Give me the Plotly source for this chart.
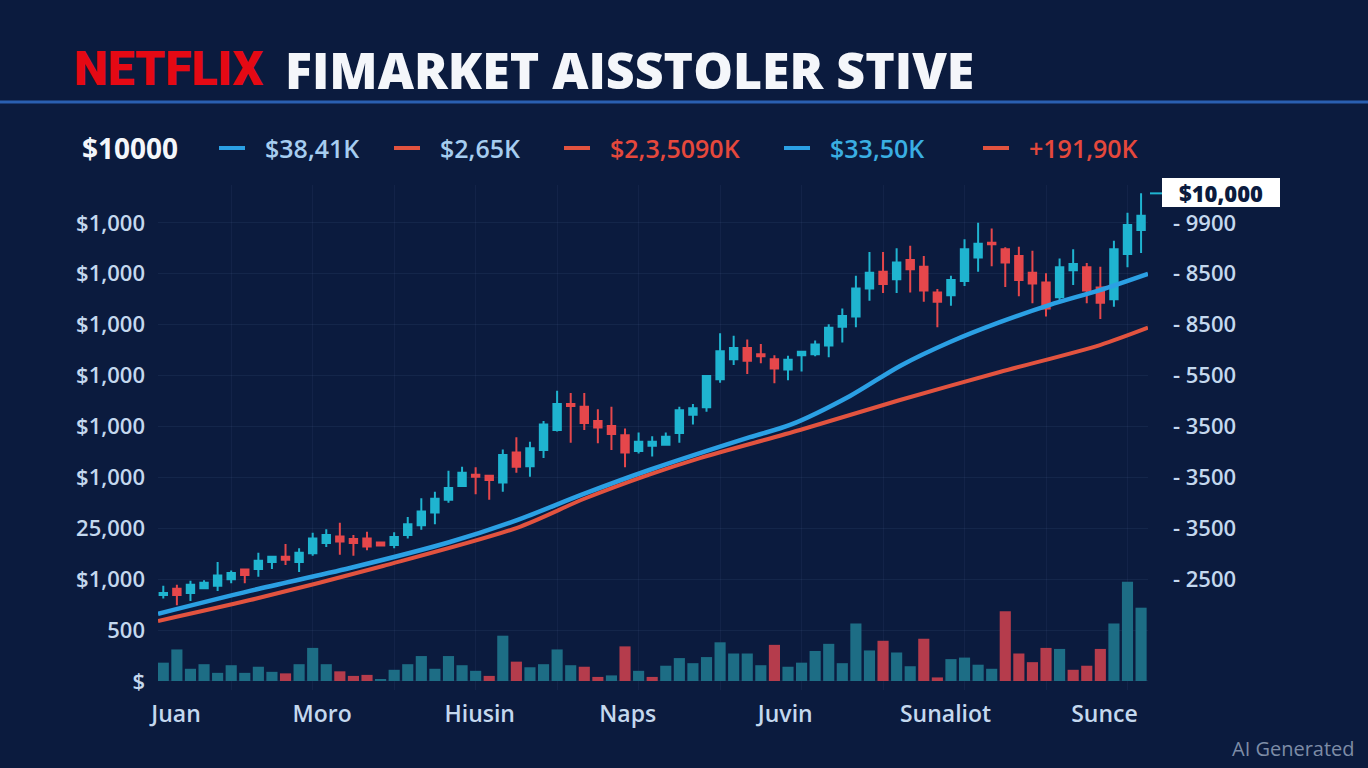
import plotly.graph_objects as go

# ---------------- data ----------------
opens = [169,181,173,182,187,200,219,220,234,244, 234,251,271,284,279,280,272,267,287,306,
         331,356,383,405,403,390,449,422,454,493, 544,539,511,501,483,452,462,464,487,523,
         538,593,632,654,642,632,612,640,642,659, 696,716,771,804,789,827,814,763,758,786,
         832,861,848,835,802,783,754,807,813,773, 750,839,886]
highs = [187,189,197,198,234,217,220,252,245,269, 261,291,298,311,287,293,273,292,322,359,
         372,413,421,420,403,455,479,470,511,570, 566,566,534,539,496,488,481,488,539,544,
         599,683,678,671,662,640,639,647,669,701, 732,796,843,843,850,855,835,770,796,868,
         900,889,852,853,845,801,830,848,821,814, 865,920,958]
lows = [162,149,157,180,177,192,192,205,220,228, 214,246,263,248,246,257,266,261,280,297,
        308,350,382,367,356,372,409,401,438,490, 468,493,467,454,420,447,441,464,468,504,
        529,586,621,603,624,585,591,608,638,636, 665,695,747,762,762,763,745,695,737,776,
        804,815,774,756,742,716,745,778,742,711, 735,813,841]
closes = [173,169,189,193,207,212,208,236,244,238, 252,280,287,274,271,264,266,283,308,333,
          358,379,409,401,395,444,421,457,504,544, 540,507,498,485,449,470,470,480,532,536,
          599,648,654,629,638,614,631,647,661,694, 717,771,802,780,822,809,767,745,788,848,
          859,858,822,788,781,732,813,819,767,743, 848,896,914]

volumes = [36,62,24,33,16,31,16,28,18,15, 33,65,33,19,10,12,2,22,33,49,
           24,49,31,20,10,89,38,27,33,62, 31,28,8,11,68,20,8,30,45,35,
           47,76,54,54,31,71,28,36,59,73, 35,113,60,79,56,29,83,7,43,46,
           32,24,137,54,37,65,63,22,30,63, 113,195,144]
volume_up = [1,1,1,1,1,1,1,1,1,0, 1,1,1,0,0,0,1,1,1,1,
             1,1,1,1,0,1,0,1,1,1, 1,0,0,1,0,1,0,1,1,1,
             1,1,1,1,1,0,1,1,1,1, 1,1,1,0,1,1,0,0,1,1,
             1,1,0,0,0,0,1,0,0,0, 1,1,1]

ma_fast_x = [-0.39, 6.38, 13.75, 21.11, 26.05, 30.91, 35.84, 43.20, 46.15, 50.57,
             54.25, 57.93, 61.6, 65.29, 68.97, 72.51]
ma_fast_y = [132, 177, 222, 273, 316, 367, 415, 479, 503, 560,
             619, 666, 705, 739, 768, 800]
ma_slow_x = [-0.39, 6.38, 16.18, 26.05, 31.0, 35.84, 39.52, 46.88, 54.25, 61.6, 68.97, 72.51]
ma_slow_y = [118, 159, 226, 301, 358, 406, 438, 493, 552, 607, 660, 694]

month_pos = [0.94, 11.7, 23.3, 34.2, 45.8, 57.6, 69.3]
month_labels = ["Juan", "Moro", "Hiusin", "Naps", "Juvin", "Sunaliot", "Sunce"]

left_tickvals = [0, 100, 200, 300, 400, 500, 600, 700, 800, 900]
left_ticktext = ["$", "500", "$1,000", "25,000", "$1,000", "$1,000", "$1,000",
                 "$1,000", "$1,000", "$1,000"]
right_tickvals = [200, 300, 400, 500, 600, 700, 800, 900]
right_ticktext = ["- 2500", "- 3500", "- 3500", "- 3500", "- 5500", "- 8500",
                  "- 8500", "- 9900"]

legend_items = ["$38,41K", "$2,65K", "$2,3,5090K", "$33,50K", "+191,90K"]
last_price_label = "$10,000"
last_price_value = 958

# ---------------- styling ----------------
BG = "#0b1b3e"
CYAN = "#1fb4d0"
RED = "#e5474b"
VOL_UP = "#1d6d85"
VOL_DN = "#b53c4c"
MA_BLUE = "#2ba0e4"
MA_RED = "#e2533f"
TICK = "#c4d8ee"
FONT = "Open Sans, Noto Sans, DejaVu Sans, sans-serif"

W, H = 1368, 768
L, R, T, B = 158, 220, 185, 78


def pxx(x):
    return (x - L) / (W - L - R)


def pxy(y):
    return (H - B - y) / (H - T - B)


x_idx = list(range(len(opens)))

fig = go.Figure()

fig.add_trace(go.Bar(
    x=x_idx, y=volumes, width=0.82,
    marker=dict(color=[VOL_UP if u else VOL_DN for u in volume_up], line=dict(width=0)),
    hoverinfo="skip", showlegend=False,
))

fig.add_trace(go.Scatter(
    x=ma_slow_x, y=ma_slow_y, mode="lines",
    line=dict(color=MA_RED, width=4, shape="spline", smoothing=0.8),
    yaxis="y2", showlegend=False, hoverinfo="skip",
))
fig.add_trace(go.Scatter(
    x=ma_fast_x, y=ma_fast_y, mode="lines",
    line=dict(color=MA_BLUE, width=4.5, shape="spline", smoothing=0.8),
    showlegend=False, hoverinfo="skip",
))

fig.add_trace(go.Candlestick(
    x=x_idx, open=opens, high=highs, low=lows, close=closes,
    increasing=dict(line=dict(color=CYAN, width=2), fillcolor=CYAN),
    decreasing=dict(line=dict(color=RED, width=2), fillcolor=RED),
    whiskerwidth=0, showlegend=False,
))

yr = [-17.7, 974.4]
fig.update_layout(
    width=W, height=H,
    margin=dict(l=L, r=R, t=T, b=B),
    paper_bgcolor=BG, plot_bgcolor=BG,
    showlegend=False,
    boxgap=0.22,
    font=dict(family=FONT, color=TICK),
    xaxis=dict(
        range=[-0.39, 72.51], tickmode="array", tickvals=month_pos, ticktext=month_labels,
        showgrid=False, zeroline=False, showline=False, ticks="",
        tickfont=dict(size=23, color=TICK, weight=600), ticklabelstandoff=8,
        rangeslider=dict(visible=False),
        minor=dict(tick0=5, dtick=6, showgrid=True, gridcolor="rgba(110,140,190,0.08)", ticks=""),
    ),
    yaxis=dict(
        range=yr, tickmode="array", tickvals=left_tickvals, ticktext=left_ticktext,
        showgrid=True, gridcolor="rgba(110,140,190,0.10)", zeroline=False, showline=False,
        ticks="", tickfont=dict(size=22, color=TICK, weight=600), ticklabelstandoff=12,
    ),
    yaxis2=dict(
        range=yr, overlaying="y", side="right", tickmode="array",
        tickvals=right_tickvals, ticktext=right_ticktext, showgrid=False,
        zeroline=False, showline=False, ticks="",
        tickfont=dict(size=22, color=TICK, weight=600), ticklabelstandoff=24,
    ),
)

ann = []
shapes = []
# title
ann.append(dict(x=pxx(72), y=pxy(68), xref="paper", yref="paper", xanchor="left",
                yanchor="middle", showarrow=False, text="NETFLIX",
                font=dict(family="Roboto, Liberation Sans, sans-serif",
                          size=48, color="#e50914", weight=900)))
ann.append(dict(x=pxx(283), y=pxy(70), xref="paper", yref="paper", xanchor="left",
                yanchor="middle", showarrow=False, text="FIMARKET AISSTOLER STIVE",
                font=dict(family=FONT, size=50, color="#f4f6fa", weight=800)))
# legend row
ann.append(dict(x=pxx(80), y=pxy(148), xref="paper", yref="paper", xanchor="left",
                yanchor="middle", showarrow=False, text="$10000",
                font=dict(family=FONT, size=28, color="#f4f6fa", weight=700)))
leg_x = [263, 438, 608, 828, 1027]
leg_col = ["#a6cdf0", "#a6cdf0", "#e5483c", "#3aaee2", "#e5483c"]
dash_col = [MA_BLUE, MA_RED, MA_RED, MA_BLUE, MA_RED]
for xx, txt, c, dc in zip(leg_x, legend_items, leg_col, dash_col):
    ann.append(dict(x=pxx(xx), y=pxy(148), xref="paper", yref="paper", xanchor="left",
                    yanchor="middle", showarrow=False, text=txt,
                    font=dict(family=FONT, size=25, color=c, weight=600)))
    shapes.append(dict(type="line", xref="paper", yref="paper",
                       x0=pxx(xx - 44), x1=pxx(xx - 18), y0=pxy(148), y1=pxy(148),
                       line=dict(color=dc, width=4)))
# separator under the title
shapes.append(dict(type="line", xref="paper", yref="paper", x0=pxx(0), x1=pxx(W),
                   y0=pxy(102), y1=pxy(102), line=dict(color="#2a5fb0", width=3)))
# last price tag
shapes.append(dict(type="line", xref="paper", yref="y", x0=pxx(1150), x1=pxx(1162),
                   y0=last_price_value, y1=last_price_value, line=dict(color=CYAN, width=2)))
shapes.append(dict(type="rect", xref="paper", yref="paper", x0=pxx(1162), x1=pxx(1280),
                   y0=pxy(207), y1=pxy(178), fillcolor="#ffffff", line=dict(width=0)))
ann.append(dict(x=pxx(1221), y=pxy(192.5), xref="paper", yref="paper", xanchor="center",
                yanchor="middle", showarrow=False, text=last_price_label,
                font=dict(family=FONT, size=22, color="#0b1b3e", weight=800)))
# watermark
ann.append(dict(x=pxx(1357), y=pxy(748), xref="paper", yref="paper", xanchor="right",
                yanchor="middle", showarrow=False, text="AI Generated",
                font=dict(family=FONT, size=20, color="#7d8ca6")))

fig.update_layout(annotations=ann, shapes=shapes)
fig.write_html("out.html", config={"displayModeBar": False},
               post_script="document.body.style.margin='0';document.body.style.overflow='hidden';")
